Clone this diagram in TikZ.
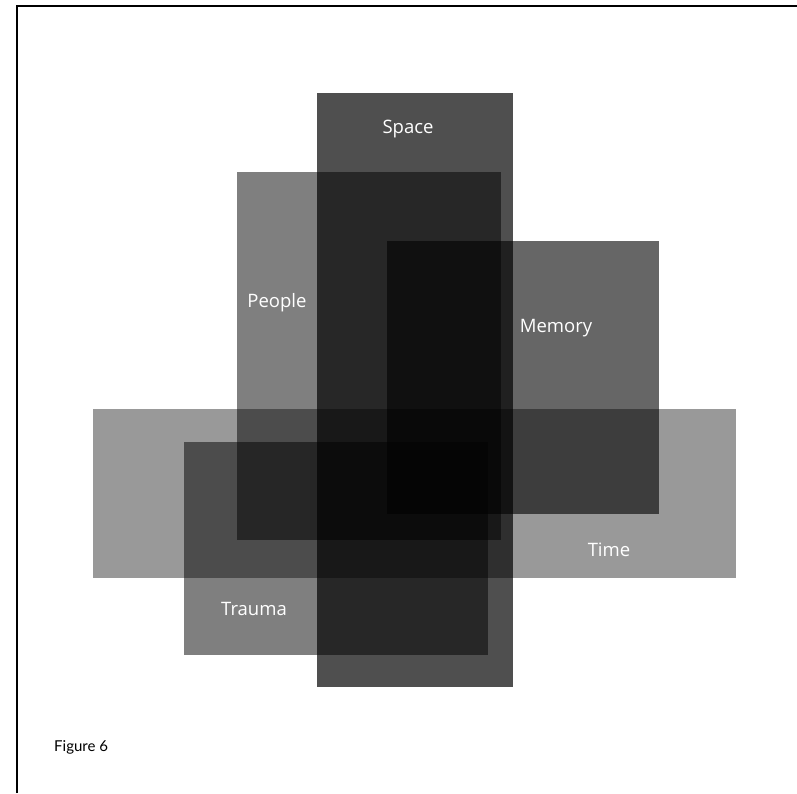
\documentclass[tikz,border=0pt]{standalone}
\usepackage{fontspec}
\setsansfont{Open Sans}
\newfontfamily\captionfont{Lato}
\definecolor{FigInk}{HTML}{000000}
\definecolor{FigLabel}{HTML}{FFFFFF}
\tikzset{
  fig frame/.style={draw=FigInk, line width=2.6pt},
  fig block/.style={fill=FigInk, draw=none},
  fig label/.style={font=\sffamily\fontsize{18.5}{22}\selectfont, text=FigLabel, inner sep=0pt},
  fig caption/.style={font=\captionfont\fontsize{15}{18}\selectfont, text=FigInk, inner sep=0pt, anchor=west},
}

\begin{document}
\begin{tikzpicture}[x=1pt,y=-1pt]
  \useasboundingbox (0,0) rectangle (797,793);

  \draw[fig frame] (17,793) -- (17,6) -- (797,6);

  % overlapping translucent blocks
  \fill[fig block, fill opacity=.40] (93,409) rectangle (736,578);   % time
  \fill[fig block, fill opacity=.50] (237,172) rectangle (501,540);  % people
  \fill[fig block, fill opacity=.60] (387,241) rectangle (659,514);  % memory
  \fill[fig block, fill opacity=.50] (184,442) rectangle (488,655);  % trauma
  \fill[fig block, fill opacity=.69] (317,93) rectangle (513,687);   % space

  \node[fig label] (space)  at (408,129) {Space};
  \node[fig label] (people) at (277,303) {People};
  \node[fig label] (memory) at (556,328) {Memory};
  \node[fig label] (time)   at (609,550) {Time};
  \node[fig label] (trauma) at (254,609) {Trauma};

  \node[fig caption] (figno) at (54,747) {Figure 6};
\end{tikzpicture}
\end{document}
